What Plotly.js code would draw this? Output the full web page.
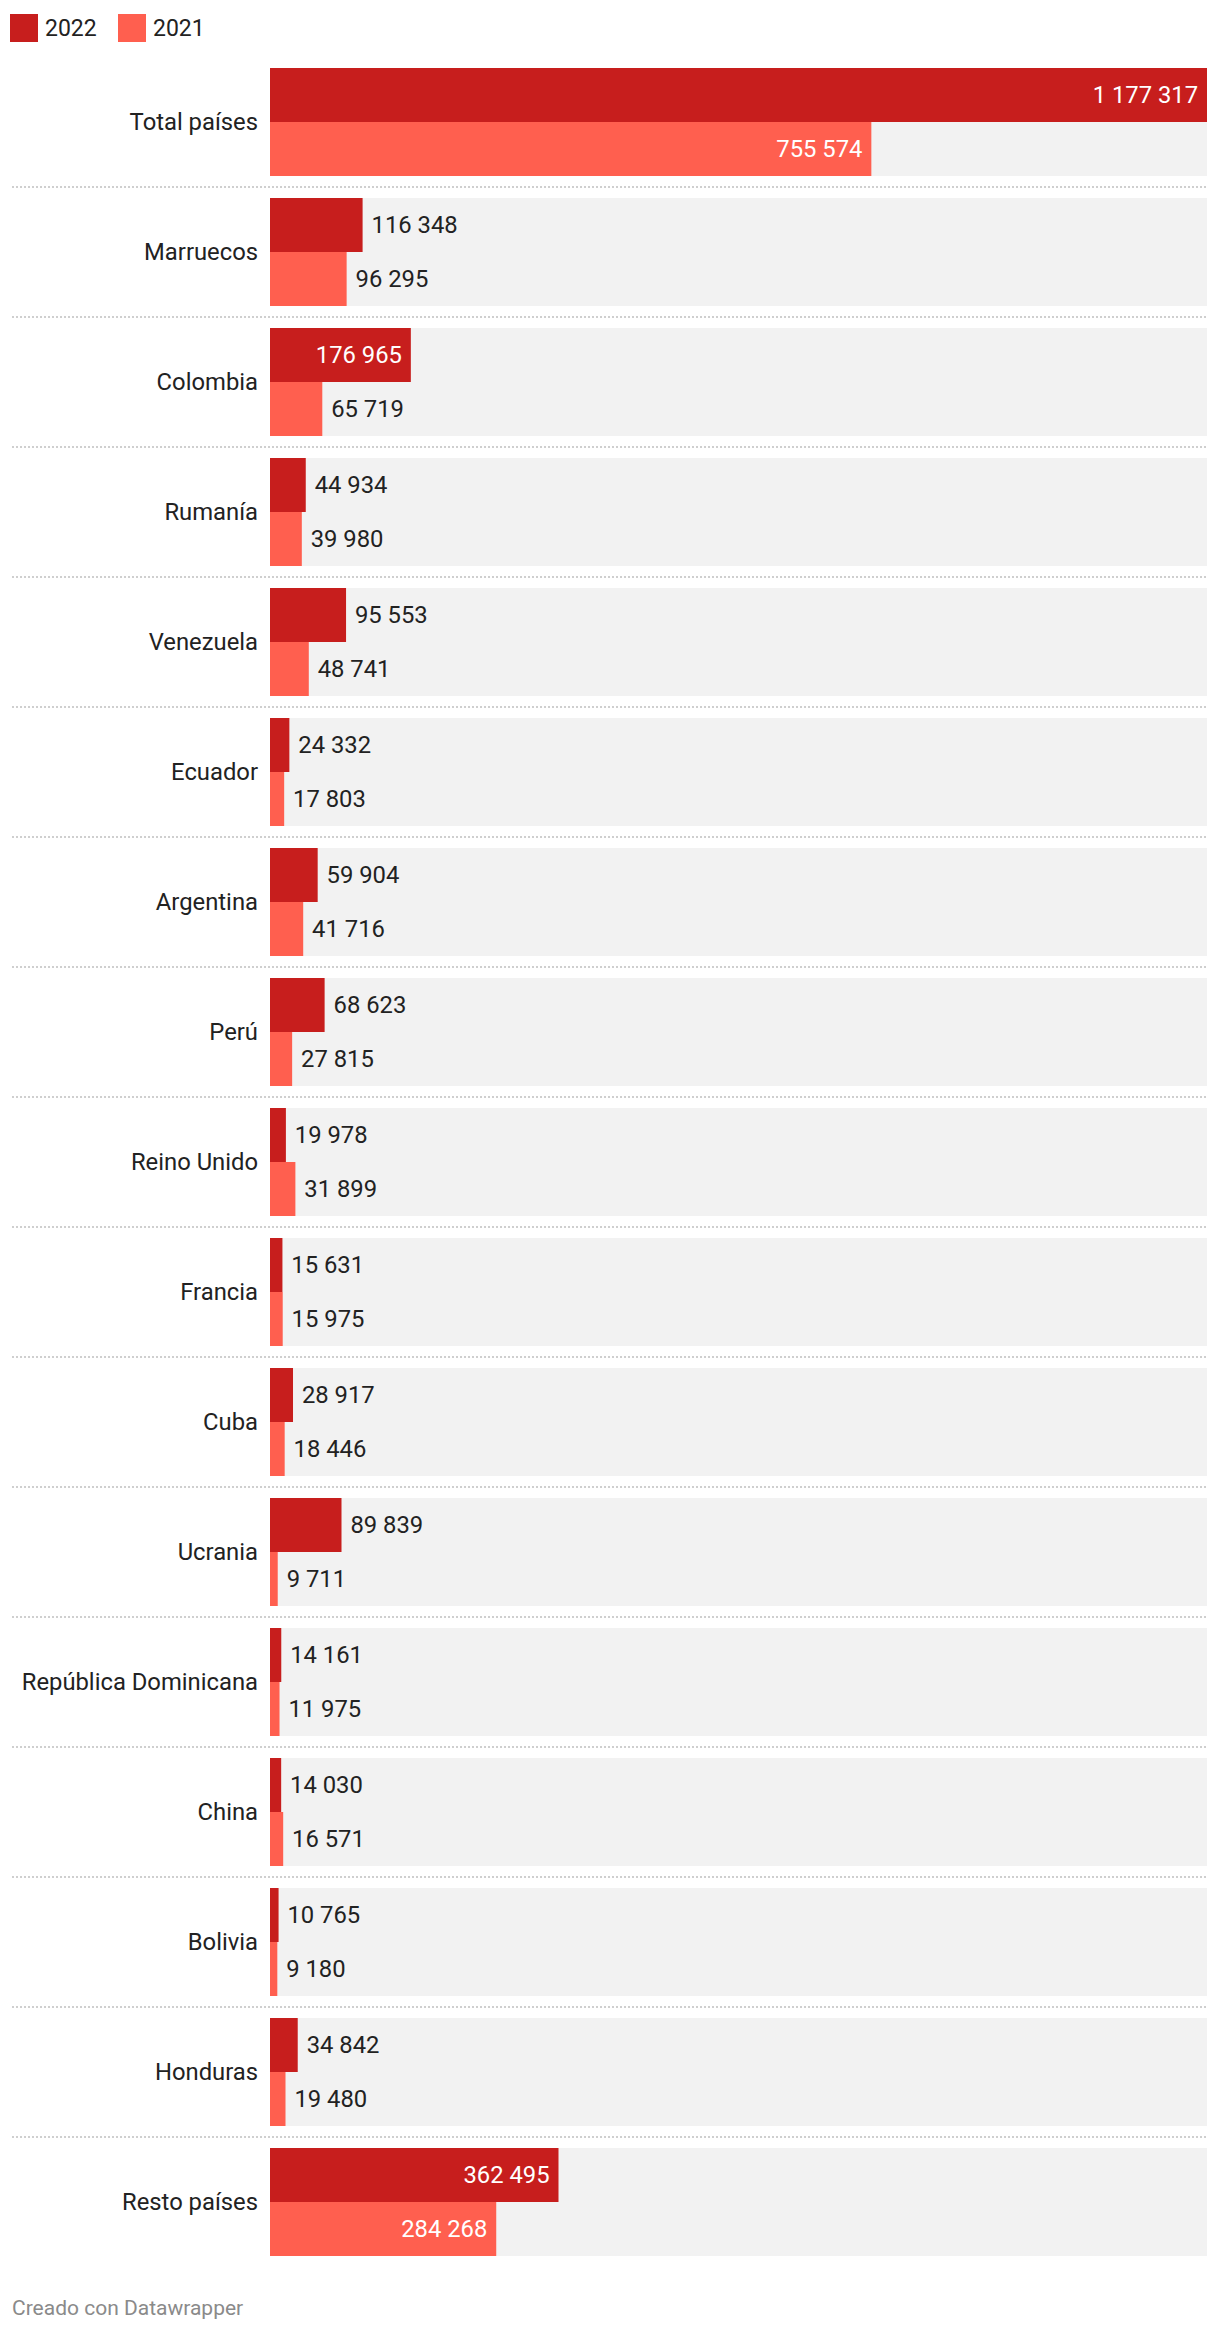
<!DOCTYPE html>
<html>
<head>
<meta charset="utf-8">
<script src="https://cdn.plot.ly/plotly-3.0.1.min.js"></script>
<style>
  html, body { margin: 0; padding: 0; background: #ffffff; }
  #chart { width: 1220px; height: 2334px; }
</style>
</head>
<body>
<div id="chart"></div>
<script>
// ---- Data ----
const categories = ['Total países', 'Marruecos', 'Colombia', 'Rumanía', 'Venezuela', 'Ecuador',
  'Argentina', 'Perú', 'Reino Unido', 'Francia', 'Cuba', 'Ucrania', 'República Dominicana',
  'China', 'Bolivia', 'Honduras', 'Resto países'];
const values2022 = [1177317, 116348, 176965, 44934, 95553, 24332, 59904, 68623, 19978, 15631,
  28917, 89839, 14161, 14030, 10765, 34842, 362495];
const values2021 = [755574, 96295, 65719, 39980, 48741, 17803, 41716, 27815, 31899, 15975,
  18446, 9711, 11975, 16571, 9180, 19480, 284268];
const seriesNames = ['2022', '2021'];

// ---- Styling / layout constants ----
const W = 1220, H = 2334;
const M = { l: 270, r: 13, t: 57, b: 67 };
const plotW = W - M.l - M.r;
const plotH = H - M.t - M.b;
const FONT = 'Roboto, "Noto Sans", sans-serif';
const FS = 23.8;
const colors = { s2022: '#c71e1d', s2021: '#ff5f4f', bg: '#f2f2f2', text: '#222222' };
const half = 108 / 130 / 2;  // half of a row band, in category units

const idx = categories.map((_, i) => i);
const maxVal = Math.max(...values2022, ...values2021);

function fmt(v) { return String(v).replace(/\B(?=(\d{3})+(?!\d))/g, ' '); }
function fits(v) {
  const barPx = v / maxVal * plotW;
  const labelPx = fmt(v).length * 0.56 * FS;
  return barPx > labelPx + 20;
}
function positions(vals) { return vals.map(v => fits(v) ? 'inside' : 'outside'); }
function templates(vals) {
  return vals.map(v => fits(v) ? '%{x:,d}\u00a0' : '\u00a0%{x:,d}');
}

const bgTrace = {
  type: 'bar', orientation: 'h',
  y: idx, x: idx.map(() => maxVal),
  width: 2 * half, offset: -half,
  marker: { color: colors.bg },
  hoverinfo: 'skip', showlegend: false
};

function seriesTrace(vals, name, color, offset) {
  return {
    type: 'bar', orientation: 'h', name: name,
    y: idx, x: vals,
    width: half, offset: offset,
    marker: { color: color },
    texttemplate: templates(vals),
    textposition: positions(vals),
    insidetextanchor: 'end',
    constraintext: 'none',
    cliponaxis: false,
    insidetextfont: { family: FONT, size: FS, color: '#ffffff' },
    outsidetextfont: { family: FONT, size: FS, color: colors.text },
    showlegend: false,
    hoverinfo: 'x+y'
  };
}

const traces = [
  bgTrace,
  seriesTrace(values2022, seriesNames[0], colors.s2022, -half),
  seriesTrace(values2021, seriesNames[1], colors.s2021, 0)
];

function px2x(px) { return (px - M.l) / plotW; }
function px2y(py) { return (H - M.b - py) / plotH; }

const shapes = [];
for (let i = 0; i < categories.length - 1; i++) {
  shapes.push({
    type: 'line', xref: 'paper', yref: 'y',
    x0: px2x(12), x1: 1, y0: i + 0.5, y1: i + 0.5,
    line: { color: '#cfcfcf', width: 2, dash: '2px,2px' }
  });
}
// custom legend swatches
const legendX = [10, 118];
const legendColors = [colors.s2022, colors.s2021];
legendX.forEach((lx, k) => {
  shapes.push({
    type: 'rect', xref: 'paper', yref: 'paper',
    x0: px2x(lx), x1: px2x(lx + 28), y0: px2y(42), y1: px2y(14),
    fillcolor: legendColors[k], line: { width: 0 }
  });
});

const annotations = legendX.map((lx, k) => ({
  xref: 'paper', yref: 'paper', x: px2x(lx + 33), y: px2y(28),
  xanchor: 'left', yanchor: 'middle', showarrow: false,
  text: seriesNames[k], font: { family: FONT, size: 23, color: colors.text }
}));
annotations.push({
  xref: 'paper', yref: 'paper', x: px2x(10), y: px2y(2308),
  xanchor: 'left', yanchor: 'middle', showarrow: false,
  text: 'Creado con Datawrapper', font: { family: FONT, size: 21, color: '#8a8a8a' }
});

const layout = {
  width: W, height: H,
  margin: M,
  paper_bgcolor: '#ffffff', plot_bgcolor: '#ffffff',
  barmode: 'overlay',
  separators: ', ',
  font: { family: FONT, size: FS, color: colors.text },
  showlegend: false,
  xaxis: {
    range: [0, maxVal], showgrid: false, zeroline: false, showline: false,
    showticklabels: false, ticks: '', fixedrange: true
  },
  yaxis: {
    range: [categories.length - 0.5, -0.5],
    tickvals: idx, ticktext: categories,
    showgrid: false, zeroline: false, showline: false,
    ticks: '', ticklabelstandoff: 11,
    tickfont: { family: FONT, size: FS, color: colors.text },
    fixedrange: true
  },
  shapes: shapes,
  annotations: annotations
};

Plotly.newPlot('chart', traces, layout, { displayModeBar: false, staticPlot: true });
</script>
</body>
</html>
